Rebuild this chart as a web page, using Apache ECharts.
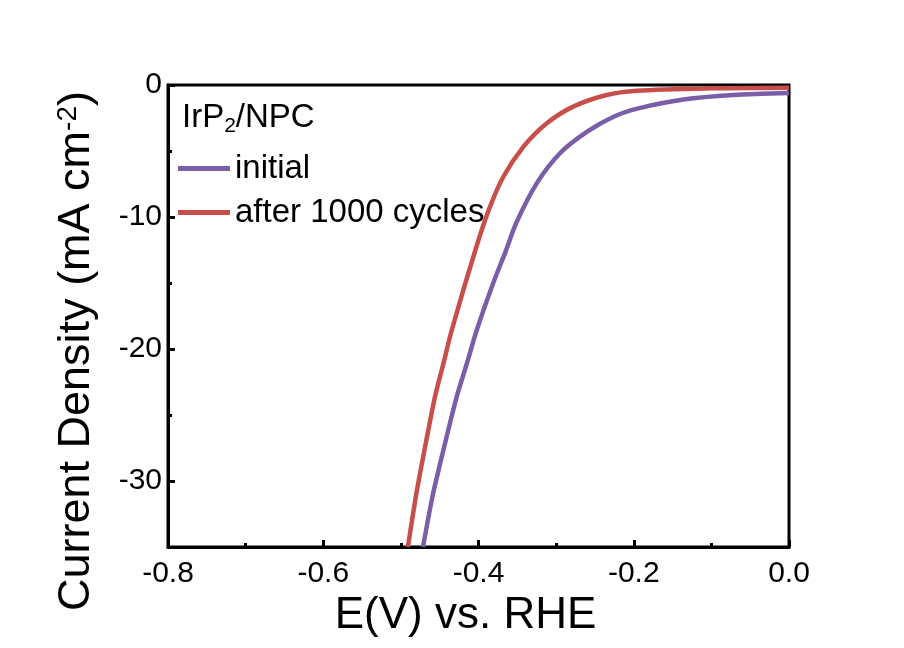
<!DOCTYPE html>
<html>
<head>
<meta charset="utf-8">
<script src="https://cdn.jsdelivr.net/npm/echarts@6/dist/echarts.min.js"></script>
<style>
  html, body { margin: 0; padding: 0; background: #fff; }
  #main { width: 904px; height: 648px; }
</style>
</head>
<body>
<div id="main"></div>
<script>
// E (V vs. RHE) / current density (mA cm-2)
const initialE = [-0.4715, -0.4594, -0.4495, -0.4388, -0.428, -0.415, -0.4022, -0.381, -0.365, -0.351, -0.325, -0.295, -0.26, -0.226, -0.194, -0.136, -0.072, 0];
const initialJ = [-35, -31.2, -28.7, -26.1, -23.6, -21.1, -18.56, -15.0, -12.6, -10.4, -7.45, -5.17, -3.54, -2.4, -1.77, -1.1, -0.76, -0.6];
const cycledE = [-0.491, -0.4808, -0.473, -0.4645, -0.456, -0.4452, -0.4344, -0.404, -0.387, -0.368, -0.342, -0.312, -0.278, -0.235, -0.196, -0.1, 0];
const cycledJ = [-35, -31.2, -28.7, -26.1, -23.6, -21.1, -18.56, -12.5, -9.5, -6.95, -4.67, -2.9, -1.64, -0.76, -0.43, -0.25, -0.2];
const yMajor = [-30, -20, -10, 0];
const yMinor = [-25, -15, -5];
const seriesNames = ["initial", "after 1000 cycles"];

const font = "Liberation Sans, Arial, sans-serif";
const pair = (xs, ys) => xs.map((x, i) => [x, ys[i]]);
const box = { left: 168, right: 115, top: 85, bottom: 101 };

let myChart = echarts.init(document.getElementById("main"));
myChart.setOption({
  backgroundColor: "#fff",
  animation: false,
  title: {
    text: "{a|IrP}{sub|2}{a|/NPC}",
    left: 177,
    top: 94,
    textStyle: {
      rich: {
        a: { fontFamily: font, fontSize: 33, fontWeight: "normal", color: "#000" },
        sub: { fontFamily: font, fontSize: 21, fontWeight: "normal", color: "#000", padding: [17, 0, 0, 0] }
      }
    }
  },
  legend: {
    data: seriesNames,
    orient: "vertical",
    left: 173,
    top: 147,
    icon: "rect",
    itemWidth: 52,
    itemHeight: 5,
    itemGap: 11,
    textStyle: { fontFamily: font, fontSize: 33, color: "#000", lineHeight: 33 }
  },
  grid: [
    Object.assign({ show: true, borderColor: "#000", borderWidth: 3 }, box),
    // same box again, only for the minor y ticks
    Object.assign({ show: false }, box)
  ],
  xAxis: [
    {
      type: "value",
      min: -0.8,
      max: 0,
      interval: 0.2,
      name: "E(V) vs. RHE",
      nameLocation: "middle",
      nameGap: 44,
      nameTextStyle: { fontFamily: font, fontSize: 44, color: "#000", padding: [0, 26, 0, 0] },
      axisLine: { onZero: false, lineStyle: { color: "#000", width: 3 } },
      axisTick: { inside: true, length: 7, lineStyle: { color: "#000", width: 3 } },
      minorTick: { show: true, splitNumber: 2, length: 4, lineStyle: { color: "#000", width: 3 } },
      axisLabel: {
        margin: 12,
        fontFamily: font,
        fontSize: 30,
        color: "#000",
        formatter: v => v.toFixed(1)
      },
      splitLine: { show: false },
      minorSplitLine: { show: false }
    },
    {
      gridIndex: 1,
      type: "value",
      min: -0.8,
      max: 0,
      show: false
    }
  ],
  yAxis: [
    {
      type: "value",
      min: -35,
      max: 0,
      name: "{a|Current Density (mA cm}{sup|-2}{a|)}",
      nameLocation: "middle",
      nameGap: 68,
      nameTextStyle: {
        padding: [0, 70, 0, 0],
        rich: {
          a: { fontFamily: font, fontSize: 45, color: "#000" },
          sup: { fontFamily: font, fontSize: 28, color: "#000", padding: [0, 0, 18, 0] }
        }
      },
      axisLine: { onZero: false, lineStyle: { color: "#000", width: 3 } },
      axisTick: { inside: true, length: 7, customValues: yMajor, lineStyle: { color: "#000", width: 3 } },
      axisLabel: { margin: 6, fontFamily: font, fontSize: 30, color: "#000", customValues: yMajor },
      splitLine: { show: false }
    },
    {
      gridIndex: 1,
      type: "value",
      position: "left",
      min: -35,
      max: 0,
      axisLine: { show: false, onZero: false },
      axisTick: { show: true, inside: true, length: 4, customValues: yMinor, lineStyle: { color: "#000", width: 3 } },
      axisLabel: { show: false },
      splitLine: { show: false }
    }
  ],
  series: [
    {
      name: seriesNames[0],
      type: "line",
      data: pair(initialE, initialJ),
      smooth: 0.3,
      showSymbol: false,
      color: "#7b5ea8",
      lineStyle: { width: 4.5, color: "#7b5ea8" }
    },
    {
      name: seriesNames[1],
      type: "line",
      data: pair(cycledE, cycledJ),
      smooth: 0.3,
      showSymbol: false,
      color: "#c84e4a",
      lineStyle: { width: 4.5, color: "#c84e4a" }
    }
  ]
});
</script>
</body>
</html>
